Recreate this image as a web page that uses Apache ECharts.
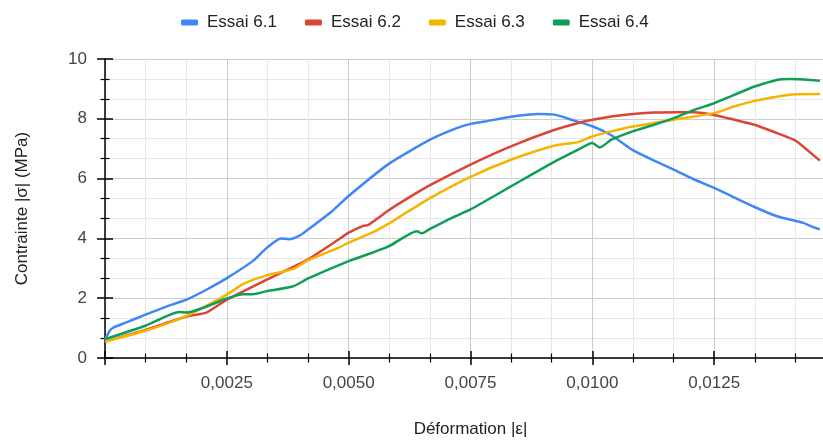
<!DOCTYPE html>
<html>
<head>
<meta charset="utf-8">
<script src="https://cdn.jsdelivr.net/npm/echarts@6/dist/echarts.min.js"></script>
<style>
html,body{margin:0;padding:0;background:#fff;overflow:hidden;width:823px;height:443px;}
#chart{width:839px;height:443px;}
</style>
</head>
<body>
<div id="chart"></div>
<script>
// Data (strain |ε|, stress |σ| in MPa)
var seriesNames = ['Essai 6.1', 'Essai 6.2', 'Essai 6.3', 'Essai 6.4'];

var eps61 = [0, 0.0001, 0.00017, 0.00044, 0.00083, 0.00126, 0.00167, 0.0021, 0.0025, 0.00303, 0.00333, 0.00361, 0.00378, 0.0040, 0.00417, 0.00466, 0.005, 0.00583, 0.00667, 0.00719, 0.0075, 0.0078, 0.00833, 0.00889, 0.00923, 0.00957, 0.0100, 0.01039, 0.01083, 0.01127, 0.01167, 0.01209, 0.0125, 0.01333, 0.01379, 0.01433, 0.01448, 0.01467];
var sig61 = [0.62, 0.92, 1.02, 1.19, 1.45, 1.72, 1.95, 2.3, 2.67, 3.24, 3.7, 4.0, 3.97, 4.1, 4.3, 4.91, 5.42, 6.5, 7.3, 7.67, 7.83, 7.91, 8.07, 8.16, 8.14, 7.97, 7.75, 7.45, 6.95, 6.6, 6.3, 5.97, 5.69, 5.05, 4.74, 4.52, 4.41, 4.3];

var eps62 = [0, 0.00083, 0.00167, 0.00208, 0.0025, 0.00333, 0.00417, 0.0048, 0.005, 0.0053, 0.0054, 0.00583, 0.0062, 0.00667, 0.0075, 0.00833, 0.00917, 0.00971, 0.0100, 0.01039, 0.01083, 0.01127, 0.01175, 0.01209, 0.0125, 0.01291, 0.01333, 0.01379, 0.01417, 0.01448, 0.01467];
var sig62 = [0.55, 0.94, 1.39, 1.52, 1.95, 2.63, 3.3, 3.97, 4.19, 4.42, 4.45, 4.95, 5.33, 5.78, 6.47, 7.08, 7.6, 7.86, 7.97, 8.08, 8.16, 8.21, 8.22, 8.22, 8.13, 7.97, 7.8, 7.52, 7.27, 6.86, 6.6];

var eps63 = [0, 0.00083, 0.00167, 0.0025, 0.00283, 0.00333, 0.00385, 0.00417, 0.0048, 0.005, 0.00548, 0.00583, 0.00617, 0.00667, 0.0075, 0.00833, 0.00917, 0.00944, 0.00971, 0.0100, 0.01039, 0.01083, 0.01167, 0.0125, 0.01291, 0.01333, 0.01379, 0.01417, 0.01467];
var sig63 = [0.55, 0.91, 1.41, 2.12, 2.47, 2.77, 2.97, 3.27, 3.69, 3.86, 4.19, 4.5, 4.85, 5.35, 6.06, 6.63, 7.08, 7.16, 7.22, 7.41, 7.58, 7.74, 7.97, 8.19, 8.41, 8.6, 8.74, 8.82, 8.83];

var eps64 = [0, 0.00083, 0.00153, 0.00167, 0.0025, 0.00283, 0.00303, 0.00333, 0.00385, 0.00417, 0.005, 0.00548, 0.00583, 0.0064, 0.0065, 0.00667, 0.00712, 0.0075, 0.00833, 0.00917, 0.00971, 0.0100, 0.01015, 0.01039, 0.01083, 0.01127, 0.01167, 0.01209, 0.0125, 0.01291, 0.01333, 0.01379, 0.01405, 0.01448, 0.01467];
var sig64 = [0.63, 1.08, 1.54, 1.52, 1.99, 2.13, 2.13, 2.24, 2.39, 2.66, 3.24, 3.52, 3.74, 4.24, 4.17, 4.32, 4.69, 4.97, 5.74, 6.52, 6.97, 7.19, 7.04, 7.3, 7.58, 7.8, 8.02, 8.3, 8.52, 8.8, 9.08, 9.3, 9.33, 9.3, 9.27];

var xTickLabels = ['0,0025', '0,0050', '0,0075', '0,0100', '0,0125'];
var yTickLabels = ['0', '2', '4', '6', '8', '10'];

var colors = ['#4285F4', '#DB4437', '#F4B400', '#0F9D58'];

function pairs(xs, ys) {
  return xs.map(function (x, i) { return [x, ys[i]]; });
}
var allData = [pairs(eps61, sig61), pairs(eps62, sig62), pairs(eps63, sig63), pairs(eps64, sig64)];

var FONT = '"Liberation Sans", Arial, sans-serif';

function xFmt(v) {
  var k = Math.round(v / 0.0025);
  if (Math.abs(v - k * 0.0025) > 1e-9) return '';
  return (k >= 1 && k <= xTickLabels.length) ? xTickLabels[k - 1] : '';
}
function yFmt(v) {
  var k = Math.round(v / 2);
  return yTickLabels[k] !== undefined ? yTickLabels[k] : '';
}

var chart = echarts.init(document.getElementById('chart'), null, {renderer: 'canvas'});
var option = {
  backgroundColor: '#ffffff',
  animation: false,
  color: colors,
  legend: {
    data: seriesNames,
    left: 176,
    top: 9,
    icon: 'roundRect',
    itemWidth: 17,
    itemHeight: 6,
    itemGap: 28,
    textStyle: {fontFamily: FONT, fontSize: 17, color: '#222', padding: [0, 0, 0, 4]}
  },
  grid: {left: 105, top: 59, right: 0, bottom: 84, containLabel: false},
  xAxis: [{
    type: 'value', min: 0, max: 0.015, interval: 0.0025, position: 'bottom',
    name: 'Déformation |ε|', nameLocation: 'middle', nameGap: 63,
    nameTextStyle: {fontFamily: FONT, fontSize: 17, color: '#222'},
    axisLine: {show: true, lineStyle: {color: '#000', width: 1.5}},
    axisTick: {show: true, inside: false, length: 7, lineStyle: {color: '#000', width: 1.5}},
    minorTick: {show: true, splitNumber: 3, length: 4.5, lineStyle: {color: '#000', width: 1.2}},
    axisLabel: {formatter: xFmt, margin: 17, fontFamily: FONT, fontSize: 17, color: '#444'},
    splitLine: {show: true, lineStyle: {color: '#cccccc', width: 1}},
    minorSplitLine: {show: true, lineStyle: {color: '#e6e6e6', width: 1}}
  }, {
    type: 'value', min: 0, max: 0.015, interval: 0.0025, position: 'bottom', offset: 0,
    axisLine: {show: false},
    axisTick: {show: true, inside: true, length: 7, lineStyle: {color: '#000', width: 1.5}},
    minorTick: {show: true, splitNumber: 3, length: 4.5, lineStyle: {color: '#000', width: 1.2}},
    axisLabel: {show: false},
    splitLine: {show: false},
    minorSplitLine: {show: false}
  }],
  yAxis: [{
    type: 'value', min: 0, max: 10, interval: 2, position: 'left',
    name: 'Contrainte |σ| (MPa)', nameLocation: 'middle', nameGap: 74,
    nameTextStyle: {fontFamily: FONT, fontSize: 17, color: '#222'},
    axisLine: {show: true, lineStyle: {color: '#000', width: 1.5}},
    axisTick: {show: true, inside: false, length: 8, lineStyle: {color: '#000', width: 1.5}},
    minorTick: {show: true, splitNumber: 3, length: 4.5, lineStyle: {color: '#000', width: 1.2}},
    axisLabel: {formatter: yFmt, margin: 18, fontFamily: FONT, fontSize: 17, color: '#444'},
    splitLine: {show: true, lineStyle: {color: '#cccccc', width: 1}},
    minorSplitLine: {show: true, lineStyle: {color: '#e6e6e6', width: 1}}
  }, {
    type: 'value', min: 0, max: 10, interval: 2, position: 'left', offset: 0,
    axisLine: {show: false},
    axisTick: {show: true, inside: true, length: 8, lineStyle: {color: '#000', width: 1.5}},
    minorTick: {show: true, splitNumber: 3, length: 4.5, lineStyle: {color: '#000', width: 1.2}},
    axisLabel: {show: false},
    splitLine: {show: false},
    minorSplitLine: {show: false}
  }],
  series: seriesNames.map(function (n, i) {
    return {
      name: n, type: 'line', xAxisIndex: 0, yAxisIndex: 0,
      data: allData[i], showSymbol: false, symbol: 'none', smooth: 0.2,
      lineStyle: {width: 2.5, color: colors[i]},
      itemStyle: {color: colors[i]},
      clip: true
    };
  })
};
chart.setOption(option);
</script>
</body>
</html>
